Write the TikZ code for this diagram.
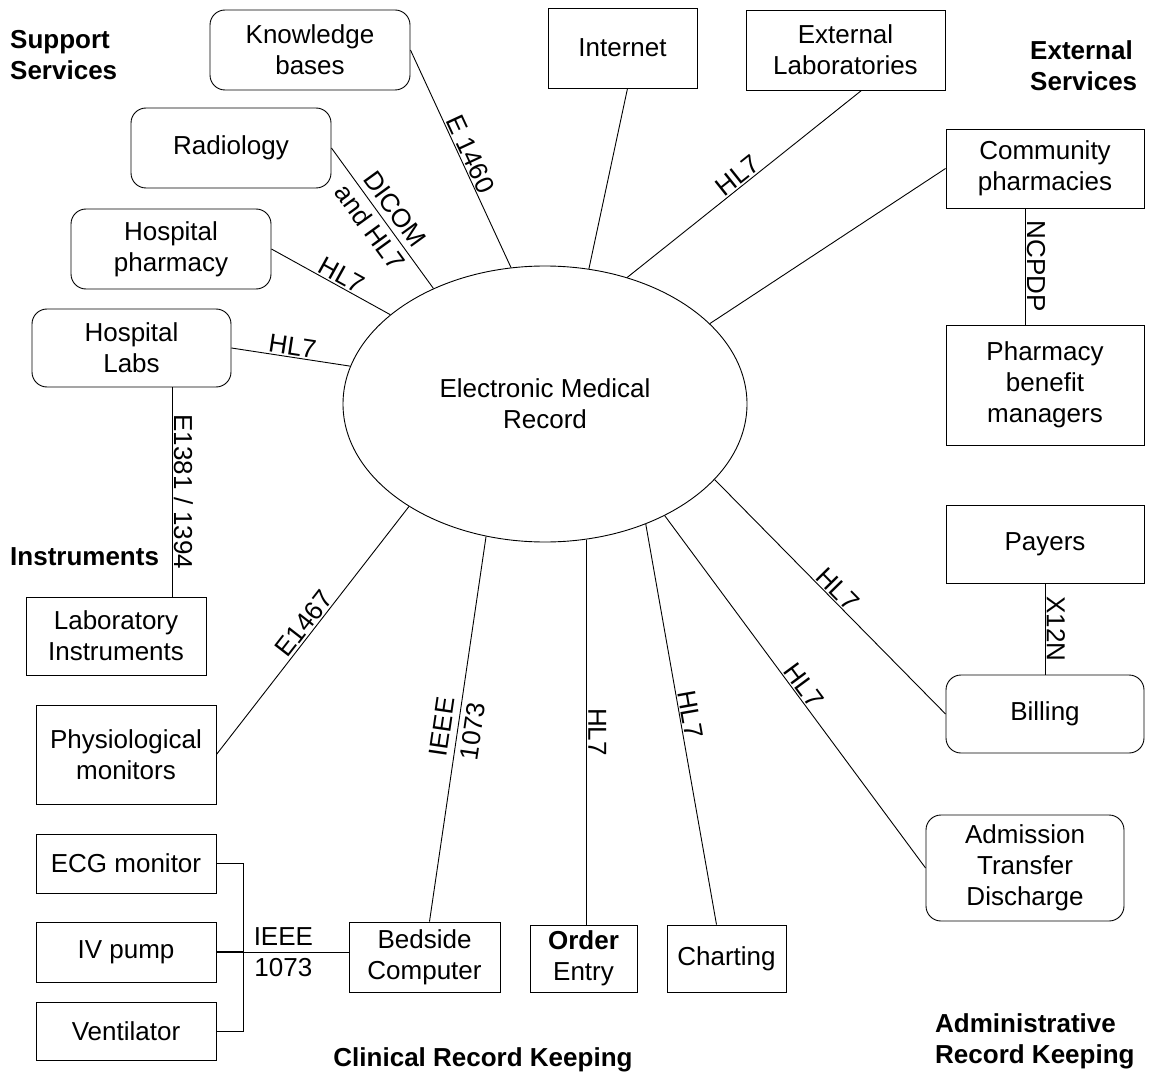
\documentclass[tikz,border=0pt]{standalone}
\usepackage{fontspec}
\setmainfont{Liberation Sans}
\usetikzlibrary{shapes.geometric,calc}
\begin{document}
\begin{tikzpicture}[x=1pt,y=-1pt,
  every node/.style={font=\fontsize{26}{31}\selectfont},
  box/.style={draw, line width=0.9pt, align=center, inner sep=0pt},
  rbox/.style={box, rounded corners=15pt},
  conn/.style={line width=0.9pt},
  lbl/.style={sloped, inner sep=1.5pt},
  title/.style={font=\fontsize{26}{31}\selectfont\bfseries, align=left, inner sep=0pt}
]
\useasboundingbox (0,0) rectangle (1149,1078);

% central ellipse
\node[draw, ellipse, line width=0.9pt, minimum width=404pt, minimum height=276pt, inner sep=0pt, align=center] (emr) at (545,404) {Electronic Medical\\Record};

% support services
\node[rbox, minimum width=200pt, minimum height=80pt] (kb) at (310,50) {Knowledge\\bases};
\node[rbox, minimum width=200pt, minimum height=80pt] (radio) at (231,148) {Radiology};
\node[rbox, minimum width=200pt, minimum height=80pt] (hpharm) at (171,249) {Hospital\\pharmacy};
\node[rbox, minimum width=199pt, minimum height=78pt] (labs) at (131.5,348) {Hospital\\Labs};

% instruments / clinical
\node[box, minimum width=180pt, minimum height=78pt] (labinst) at (116,636) {Laboratory\\Instruments};
\node[box, minimum width=180pt, minimum height=99pt] (phys) at (126,754.5) {Physiological\\monitors};
\node[box, minimum width=180pt, minimum height=59pt] (ecg) at (126,863.5) {ECG monitor};
\node[box, minimum width=180pt, minimum height=60pt] (ivpump) at (126,952) {IV pump};
\node[box, minimum width=180pt, minimum height=58pt] (vent) at (126,1031) {Ventilator};
\node[box, minimum width=151pt, minimum height=70pt] (bedside) at (424.5,957) {Bedside\\Computer};
\node[box, minimum width=107pt, minimum height=67pt] (order) at (583.5,958.5) {{\bfseries Order}\\Entry};
\node[box, minimum width=119pt, minimum height=67pt] (charting) at (726.5,958.5) {Charting};

% external services
\node[box, minimum width=149pt, minimum height=80pt] (internet) at (622.5,48) {Internet};
\node[box, minimum width=199pt, minimum height=80pt] (extlab) at (845.5,50) {External\\Laboratories};
\node[box, minimum width=198pt, minimum height=79pt] (comm) at (1045,168.5) {Community\\pharmacies};
\node[box, minimum width=198pt, minimum height=120pt] (pbm) at (1045,385) {Pharmacy\\benefit\\managers};

% administrative
\node[box, minimum width=198pt, minimum height=78pt] (payers) at (1045,544) {Payers};
\node[rbox, minimum width=198pt, minimum height=78pt] (billing) at (1045,714) {Billing};
\node[rbox, minimum width=198pt, minimum height=106pt] (adt) at (1025,868) {Admission\\Transfer\\Discharge};

% group titles
\node[title, anchor=west] (support) at (10,55) {Support\\Services};
\node[title, anchor=west] (external) at (1030,66) {External\\Services};
\node[title, anchor=west] (instr) at (10,557) {Instruments};
\node[title] (clinical) at (483,1060) {Clinical Record Keeping};
\node[title, anchor=west] (admin) at (935,1041) {Administrative\\Record Keeping};

% connectors to the EMR
\draw[conn] (kb.east) -- (emr.104) node[lbl, midway, above] {E 1460};
\draw[conn] (radio.east) -- (emr.134) node[lbl, midway, align=center, inner sep=0pt] {DICOM\\and HL7};
\draw[conn] (hpharm.east) -- (emr.150) node[lbl, pos=0.55, above] {HL7};
\draw[conn] (labs.east) -- (emr.169) node[lbl, midway, above] {HL7};
\draw[conn] (phys.east) -- (emr.217) node[lbl, midway, above] {E1467};
\draw[conn] ([xshift=5pt]bedside.north) -- (emr.246) node[lbl, midway, align=center, inner sep=0pt] {IEEE\\1073};
\draw[conn] (emr.287.5) -- (emr.287.5 |- order.north) node[lbl, midway, above] {HL7};
\draw[conn] (emr.310) -- ([xshift=-10pt]charting.north) node[lbl, pos=0.48, above] {HL7};
\draw[conn] (emr.317) -- (adt.west) node[lbl, midway, above] {HL7};
\draw[conn] (emr.336.5) -- (billing.west) node[lbl, midway, above] {HL7};
\draw[conn] (emr.26) -- (comm.west);
\draw[conn] (emr.57) -- ([xshift=16pt]extlab.south) node[lbl, midway, above] {HL7};
\draw[conn] (emr.72) -- ([xshift=5pt]internet.south);

% side links
\draw[conn] ([xshift=40.5pt]labs.south) -- ([xshift=40.5pt]labs.south |- labinst.north) node[lbl, midway, above] {E1381 / 1394};
\draw[conn] ([xshift=-20pt]comm.south) -- ([xshift=-20pt]comm.south |- pbm.north) node[lbl, midway, above] {NCPDP};
\draw[conn] (payers.south) -- (billing.north) node[lbl, midway, above] {X12N};

% bedside bus
\coordinate (bus) at ([xshift=27pt]ivpump.east);
\draw[conn] (ecg.east) -| (bus) |- (vent.east);
\draw[line width=2.6pt] (ivpump.east) -- (bus);
\draw[conn] (bus) -- (bus -| bedside.west) node[pos=0.38, align=center, inner sep=0pt] {IEEE\\1073};
\end{tikzpicture}
\end{document}
